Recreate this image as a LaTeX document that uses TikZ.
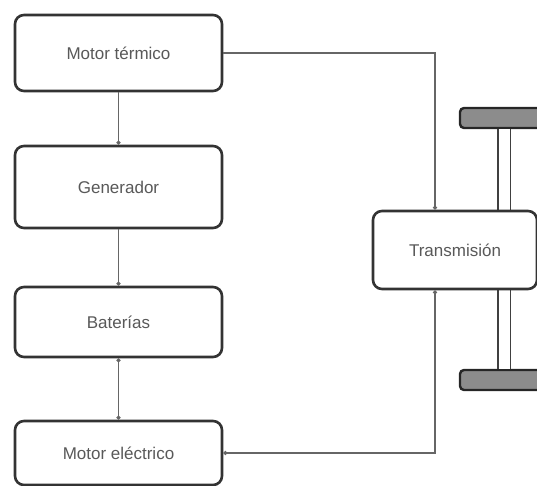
\documentclass[tikz,border=0pt]{standalone}
\usepackage{fontspec}
\setmainfont{Liberation Sans}
\usetikzlibrary{arrows.meta}

\begin{document}
\begin{tikzpicture}[x=1pt, y=-1pt,
    block/.style={draw=black!80, line width=2.6pt, rounded corners=9pt, fill=white,
                  text=black!65, font=\fontsize{17}{20}\selectfont},
    link/.style={draw=black!60, line width=1.4pt},
    wheel/.style={draw=black!85, line width=2.4pt, rounded corners=4pt, fill=black!45,
                  minimum width=88pt, minimum height=20pt, inner sep=0pt},
    axle/.style={draw=black!75, line width=1.6pt, double=white, double distance=11pt}]

    % 0. Frame (same size as the sketch)
    \clip (0,0) rectangle (537,486);

    % 1. Left column of blocks
    \node[block, minimum width=207pt, minimum height=76pt] (mt) at (118.5,53)  {Motor térmico};
    \node[block, minimum width=207pt, minimum height=82pt] (gen) at (118.5,187) {Generador};
    \node[block, minimum width=207pt, minimum height=70pt] (bat) at (118.5,322) {Baterías};
    \node[block, minimum width=207pt, minimum height=64pt] (me) at (118.5,453) {Motor eléctrico};

    % 2. Wheels and axle (drawn before the gearbox so it sits on top)
    \node[wheel] (wtop) at (504,118) {};
    \node[wheel] (wbot) at (504,380) {};
    \draw[axle] (wtop.south) -- (wbot.north);

    % 3. Transmission block
    \node[block, minimum width=164pt, minimum height=78pt] (tr) at (455,250) {Transmisión};

    % 4. Connectors
    \draw[link, -{Circle[length=4pt]}] (mt) -- (gen);
    \draw[link, -{Circle[length=4pt]}] (gen) -- (bat);
    \draw[link, {Circle[length=4pt]}-{Circle[length=4pt]}] (bat) -- (me);
    \draw[link, -{Circle[length=4pt]}] (mt.east) -| ([xshift=-20pt]tr.north);
    \draw[link, {Circle[length=4pt]}-{Circle[length=4pt]}] ([xshift=-20pt]tr.south) |- (me.east);

\end{tikzpicture}
\end{document}
